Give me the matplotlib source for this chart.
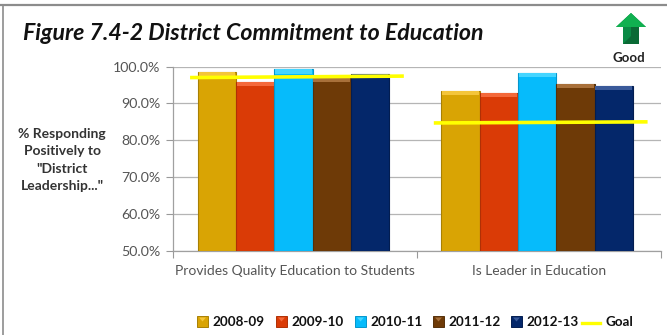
import matplotlib
matplotlib.use("Agg")
import matplotlib.pyplot as plt
from matplotlib.lines import Line2D
from matplotlib.patches import Polygon, Rectangle

W, H = 667, 335
categories = ["Provides Quality Education to Students", "Is Leader in Education"]
years = ["2008-09", "2009-10", "2010-11", "2011-12", "2012-13"]
values = {
    "2008-09": [98.4, 93.4],
    "2009-10": [95.8, 92.8],
    "2010-11": [99.2, 98.2],
    "2011-12": [97.0, 95.3],
    "2012-13": [98.1, 94.6],
}
goal_start = [97.0, 84.7]
goal_end = [97.4, 85.0]
colors = ["#D9A404", "#DA3B06", "#06BBFB", "#6E3A07", "#04276A"]
tops = ["#F4C53A", "#F4693A", "#45D5FF", "#A8703A", "#3A5A9A"]
edges = ["#A88004", "#B03005", "#0596CC", "#55300A", "#031D50"]
yticks = [50, 60, 70, 80, 90, 100]

plt.rcParams["font.family"] = ["Lato", "DejaVu Sans"]
fig = plt.figure(figsize=(W / 100, H / 100), dpi=100)
L, R, T, B = 173, 660.5, 66.5, 251
ax = fig.add_axes([L / W, 1 - B / H, (R - L) / W, (B - T) / H])
ax.set_xlim(-0.5, 1.5)
ax.set_ylim(50, 100)

bw = 0.157
shift = -0.006
for i, (y, c, t, e) in enumerate(zip(years, colors, tops, edges)):
    off = (i - 2) * bw + shift
    for j, v in enumerate(values[y]):
        x = j + off
        ax.bar(x, v - 50, bw, bottom=50, color=c, edgecolor=e, linewidth=0.8, zorder=3 + i * 0.1)
        ax.bar(x, 1.1, bw * 0.96, bottom=v - 1.1, color=t, linewidth=0, zorder=3.05 + i * 0.1)

for j in range(2):
    ax.plot([j - 0.43, j + 0.447], [goal_start[j], goal_end[j]], color="#FFFF00", lw=2.6,
            solid_capstyle="butt", zorder=5)

ax.set_yticks(yticks)
ax.set_yticklabels([f"{v:.1f}%" for v in yticks], fontsize=10.2, color="#555555")
ax.set_xticks([0, 1])
ax.set_xticklabels(categories, fontsize=10, color="#555555")
ax.set_xticks([-0.5, 0.5, 1.5], minor=True)
ax.tick_params(axis="x", which="major", length=0, pad=10)
ax.tick_params(axis="x", which="minor", length=5, color="#999999", width=0.8)
ax.tick_params(axis="y", length=5, color="#999999", width=0.8, pad=4)
ax.grid(axis="y", color="#B5B5B5", lw=0.9, zorder=0)
ax.set_axisbelow(True)
for s in ("top", "right"):
    ax.spines[s].set_visible(False)
for s in ("left", "bottom"):
    ax.spines[s].set_color("#A0A0A0")
    ax.spines[s].set_linewidth(0.9)


def fx(p):
    return p / W


def fy(p):
    return 1 - p / H


# outer frame
fig.add_artist(Line2D([0, 1], [fy(5), fy(5)], color="#8C8C8C", lw=1.6))
fig.add_artist(Line2D([fx(3), fx(3)], [fy(5), 0], color="#8C8C8C", lw=1.2))

fig.text(fx(23), fy(33), "Figure 7.4-2 District Commitment to Education", fontsize=16.7,
         style="italic", weight="bold", color="#111111", va="center", ha="left")
fig.text(fx(62), fy(160), '% Responding\nPositively to\n"District\nLeadership..."', fontsize=10,
         weight="bold", color="#333333", ha="center", va="center", linespacing=1.52)
fig.text(fx(629), fy(58), "Good", fontsize=9.5, weight="bold", color="#222222", ha="center", va="center")

# arrow
arrow = [(631, 13), (646, 27), (639, 27), (639, 44), (623, 44), (623, 27), (616, 27)]
fig.add_artist(Polygon([(fx(a), fy(b)) for a, b in arrow], closed=True, transform=fig.transFigure,
                       facecolor="#0A8A45", edgecolor="none"))
head = [(631, 13), (646, 27), (616, 27)]
fig.add_artist(Polygon([(fx(a), fy(b)) for a, b in head], closed=True, transform=fig.transFigure,
                       facecolor="#10B050", edgecolor="none"))
shade = [(639, 27), (639, 44), (623, 44), (631, 36), (631, 27)]
fig.add_artist(Polygon([(fx(a), fy(b)) for a, b in shade], closed=True, transform=fig.transFigure,
                       facecolor="#0A6A35", edgecolor="none"))

# legend
swatches = [198, 277, 356, 434, 512]
ly = 321.5
for x0, y, c, t, e in zip(swatches, years, colors, tops, edges):
    fig.add_artist(Rectangle((fx(x0 - 1), fy(ly + 5)), 11 / W, 11 / H, transform=fig.transFigure,
                             facecolor=c, edgecolor=e, lw=0.7))
    fig.add_artist(Polygon([(fx(x0 + 1), fy(ly - 4)), (fx(x0 + 8), fy(ly - 4)), (fx(x0 + 4.5), fy(ly))],
                           closed=True, transform=fig.transFigure, facecolor=t, edgecolor="none"))
    fig.text(fx(x0 + 14), fy(ly), y, fontsize=9.7, weight="bold", color="#111111", va="center", ha="left")
fig.add_artist(Line2D([fx(582), fx(600)], [fy(ly + 1), fy(ly + 1)], color="#FFFF00", lw=2.4))
fig.text(fx(605), fy(ly), "Goal", fontsize=9.7, weight="bold", color="#111111", va="center", ha="left")

fig.savefig("out.png", dpi=100)
